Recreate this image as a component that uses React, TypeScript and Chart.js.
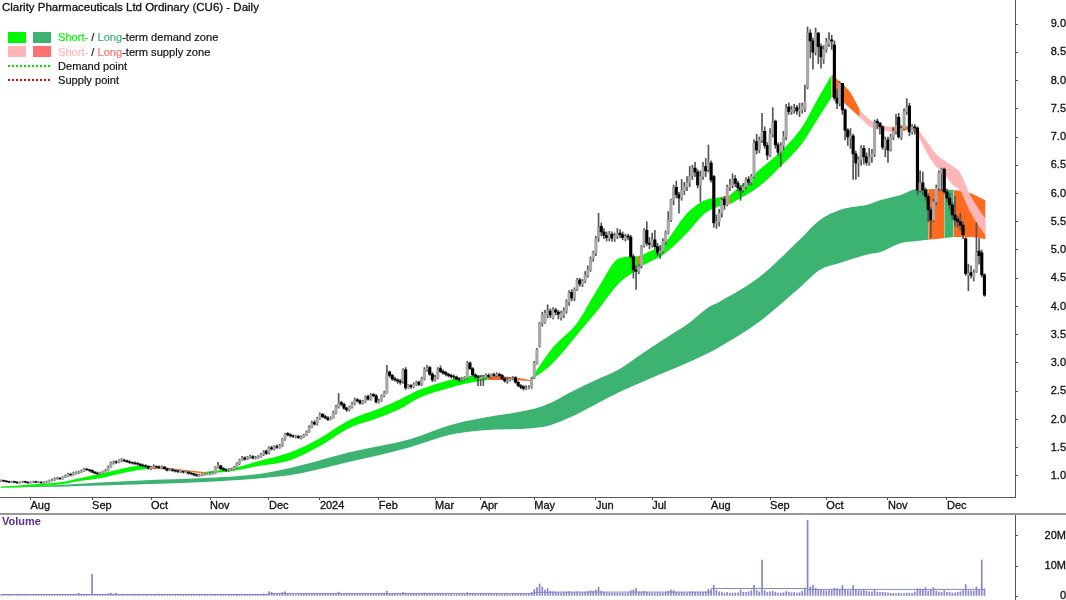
import { useEffect, useRef } from "react";
import { Chart, registerables } from "chart.js";

Chart.register(...registerables);

const FONT = '"Liberation Sans", Arial, sans-serif';

// Daily candles, one row per ten trading days
const candleOpen = [
  .91, .92, .91, .90, .89, .90, .89, .88, .89, .90,
  .89, .88, .89, .90, .89, .89, .88, .89, .90, .92,
  .93, .95, .96, .95, .98, 1.00, 1.03, 1.02, 1.05, 1.06,
  1.07, 1.09, 1.12, 1.11, 1.10, 1.07, 1.05, 1.04, 1.05, 1.08,
  1.10, 1.16, 1.23, 1.25, 1.24, 1.27, 1.28, 1.27, 1.25, 1.24,
  1.23, 1.22, 1.21, 1.19, 1.18, 1.17, 1.13, 1.15, 1.17, 1.16,
  1.14, 1.16, 1.13, 1.10, 1.11, 1.10, 1.09, 1.07, 1.08, 1.06,
  1.07, 1.05, 1.04, 1.02, 1.00, 1.01, 1.02, 1.03, 1.03, 1.04,
  1.05, 1.16, 1.18, 1.13, 1.11, 1.10, 1.11, 1.12, 1.15, 1.22,
  1.28, 1.32, 1.30, 1.33, 1.34, 1.32, 1.33, 1.34, 1.38, 1.44,
  1.41, 1.50, 1.48, 1.52, 1.50, 1.54, 1.65, 1.75, 1.73, 1.71,
  1.69, 1.70, 1.67, 1.69, 1.72, 1.78, 1.86, 1.95, 1.92, 2.02,
  2.09, 2.05, 2.03, 2.00, 2.03, 2.12, 2.22, 2.30, 2.27, 2.20,
  2.17, 2.22, 2.28, 2.35, 2.33, 2.29, 2.32, 2.41, 2.36, 2.44,
  2.42, 2.31, 2.33, 2.42, 2.47, 2.84, 2.78, 2.72, 2.70, 2.68,
  2.68, 2.88, 2.56, 2.60, 2.58, 2.62, 2.66, 2.62, 2.72, 2.88,
  2.92, 2.80, 2.70, 2.74, 2.90, 2.85, 2.83, 2.80, 2.78, 2.76,
  2.75, 2.72, 2.70, 2.72, 2.74, 3.00, 2.90, 2.79, 2.76, 2.72,
  2.74, 2.75, 2.78, 2.76, 2.80, 2.78, 2.80, 2.78, 2.72, 2.68,
  2.70, 2.72, 2.74, 2.66, 2.60, 2.58, 2.55, 2.56, 2.57, 2.74,
  3.00, 3.30, 3.70, 3.72, 3.85, 3.92, 3.80, 3.94, 3.90, 3.80,
  3.85, 3.92, 4.08, 4.25, 4.15, 4.30, 4.47, 4.40, 4.45, 4.55,
  4.65, 4.85, 4.95, 5.22, 5.42, 5.32, 5.26, 5.20, 5.28, 5.20,
  5.24, 5.30, 5.27, 5.20, 5.25, 5.23, 4.88, 4.65, 4.62, 4.72,
  5.08, 5.35, 5.12, 5.08, 5.18, 5.06, 4.95, 4.98, 5.15, 5.30,
  5.53, 5.88, 6.11, 5.98, 5.92, 6.05, 6.12, 6.19, 6.32, 6.45,
  6.38, 6.15, 6.30, 6.48, 6.42, 6.54, 6.30, 5.48, 5.50, 5.65,
  5.90, 5.80, 6.11, 6.15, 6.26, 6.18, 6.10, 6.06, 6.12, 6.25,
  6.20, 6.30, 6.92, 6.77, 6.95, 7.10, 6.85, 6.68, 7.05, 7.28,
  6.86, 6.73, 6.85, 7.00, 7.53, 7.45, 7.48, 7.52, 7.46, 7.48,
  7.50, 7.88, 8.84, 8.70, 8.50, 8.84, 8.60, 8.38, 8.55, 8.65,
  8.72, 8.63, 7.69, 7.60, 7.95, 7.48, 7.12, 6.98, 7.02, 6.70,
  6.54, 6.60, 6.80, 6.65, 6.55, 6.65, 6.70, 7.28, 7.25, 7.18,
  6.82, 6.95, 6.78, 7.00, 7.10, 7.35, 7.00, 7.15, 7.45, 7.55,
  7.09, 7.18, 7.16, 6.06, 6.19, 6.06, 5.95, 5.71, 5.53, 5.85,
  6.10, 6.36, 6.43, 6.03, 5.92, 5.80, 5.62, 5.55, 5.50, 5.44,
  5.20, 4.55, 4.60, 4.52, 4.62, 4.98, 4.95, 4.56,
];

const candleHigh = [
  .93, .93, .92, .91, .91, .91, .90, .90, .91, .91,
  .90, .90, .91, .91, .90, .90, .90, .91, .93, .95,
  .97, .98, .97, .99, 1.02, 1.05, 1.05, 1.07, 1.08, 1.09,
  1.11, 1.14, 1.14, 1.12, 1.11, 1.08, 1.07, 1.07, 1.09, 1.12,
  1.18, 1.25, 1.27, 1.27, 1.29, 1.31, 1.30, 1.28, 1.27, 1.25,
  1.25, 1.24, 1.22, 1.21, 1.20, 1.18, 1.17, 1.20, 1.18, 1.18,
  1.18, 1.17, 1.14, 1.13, 1.13, 1.11, 1.10, 1.10, 1.09, 1.09,
  1.08, 1.07, 1.05, 1.04, 1.03, 1.04, 1.05, 1.05, 1.06, 1.07,
  1.17, 1.24, 1.19, 1.15, 1.13, 1.13, 1.14, 1.17, 1.24, 1.30,
  1.35, 1.34, 1.35, 1.37, 1.36, 1.35, 1.36, 1.40, 1.45, 1.46,
  1.52, 1.53, 1.54, 1.55, 1.56, 1.67, 1.76, 1.77, 1.75, 1.73,
  1.72, 1.72, 1.71, 1.74, 1.80, 1.89, 1.97, 1.98, 2.04, 2.12,
  2.11, 2.08, 2.05, 2.05, 2.15, 2.25, 2.46, 2.32, 2.29, 2.22,
  2.24, 2.31, 2.38, 2.37, 2.35, 2.34, 2.42, 2.43, 2.46, 2.46,
  2.44, 2.36, 2.44, 2.50, 2.96, 2.86, 2.80, 2.75, 2.72, 2.71,
  2.90, 2.92, 2.62, 2.62, 2.65, 2.68, 2.68, 2.75, 2.92, 2.96,
  2.94, 2.83, 2.78, 2.92, 2.95, 2.88, 2.85, 2.82, 2.80, 2.79,
  2.77, 2.74, 2.74, 2.76, 3.03, 3.02, 2.92, 2.81, 2.78, 2.78,
  2.78, 2.81, 2.81, 2.81, 2.82, 2.83, 2.82, 2.80, 2.74, 2.74,
  2.74, 2.76, 2.76, 2.68, 2.62, 2.60, 2.60, 2.60, 2.75, 3.03,
  3.26, 3.72, 3.90, 3.93, 4.03, 3.96, 3.98, 3.97, 3.93, 3.92,
  3.98, 4.12, 4.28, 4.30, 4.33, 4.50, 4.50, 4.48, 4.62, 4.72,
  4.88, 4.98, 5.24, 5.65, 5.48, 5.38, 5.32, 5.33, 5.32, 5.30,
  5.38, 5.36, 5.32, 5.28, 5.28, 5.26, 4.92, 4.72, 4.74, 5.08,
  5.38, 5.50, 5.22, 5.30, 5.35, 5.12, 5.08, 5.20, 5.34, 5.68,
  5.90, 6.15, 6.22, 6.02, 6.25, 6.20, 6.30, 6.48, 6.50, 6.55,
  6.42, 6.40, 6.55, 6.62, 6.86, 6.58, 6.32, 5.62, 5.72, 5.92,
  5.95, 6.15, 6.25, 6.35, 6.32, 6.22, 6.14, 6.18, 6.28, 6.30,
  6.34, 6.95, 7.05, 7.00, 7.42, 7.18, 6.90, 7.15, 7.52, 7.30,
  6.90, 6.90, 7.10, 7.58, 7.60, 7.55, 7.58, 7.56, 7.60, 7.60,
  7.92, 8.95, 8.90, 8.75, 8.93, 8.85, 8.65, 8.62, 8.75, 8.85,
  8.80, 8.70, 7.85, 7.98, 7.95, 7.50, 7.15, 7.15, 7.05, 6.75,
  6.65, 6.85, 6.85, 6.72, 6.80, 6.78, 7.30, 7.32, 7.25, 7.20,
  7.00, 7.00, 7.05, 7.15, 7.40, 7.42, 7.20, 7.50, 7.68, 7.60,
  7.22, 7.22, 7.18, 6.40, 6.38, 6.10, 6.00, 5.75, 5.90, 6.15,
  6.40, 6.45, 6.45, 6.08, 6.00, 5.85, 5.95, 5.60, 5.65, 5.50,
  5.22, 4.75, 4.72, 4.65, 5.48, 5.20, 5.00, 4.58,
];

const candleLow = [
  .90, .90, .89, .88, .88, .88, .87, .87, .88, .88,
  .87, .87, .88, .88, .88, .87, .87, .88, .89, .91,
  .92, .94, .94, .94, .97, .99, 1.00, 1.01, 1.03, 1.04,
  1.06, 1.08, 1.10, 1.08, 1.06, 1.04, 1.02, 1.03, 1.04, 1.07,
  1.09, 1.15, 1.21, 1.22, 1.23, 1.25, 1.25, 1.24, 1.22, 1.21,
  1.20, 1.19, 1.17, 1.16, 1.15, 1.12, 1.11, 1.14, 1.14, 1.13,
  1.13, 1.12, 1.09, 1.09, 1.08, 1.07, 1.06, 1.06, 1.05, 1.05,
  1.03, 1.02, 1.00, .99, .99, 1.00, 1.01, 1.02, 1.02, 1.03,
  1.04, 1.14, 1.11, 1.09, 1.08, 1.08, 1.10, 1.11, 1.14, 1.20,
  1.27, 1.28, 1.29, 1.31, 1.30, 1.30, 1.31, 1.33, 1.36, 1.38,
  1.39, 1.46, 1.46, 1.49, 1.49, 1.52, 1.63, 1.71, 1.69, 1.68,
  1.67, 1.66, 1.65, 1.68, 1.71, 1.77, 1.85, 1.90, 1.90, 2.00,
  2.03, 2.01, 1.98, 1.99, 2.02, 2.10, 2.20, 2.24, 2.18, 2.14,
  2.15, 2.20, 2.26, 2.31, 2.27, 2.27, 2.30, 2.34, 2.34, 2.40,
  2.29, 2.29, 2.32, 2.40, 2.46, 2.75, 2.69, 2.68, 2.64, 2.62,
  2.64, 2.53, 2.55, 2.55, 2.56, 2.60, 2.60, 2.60, 2.70, 2.85,
  2.78, 2.67, 2.68, 2.72, 2.83, 2.80, 2.77, 2.75, 2.73, 2.71,
  2.70, 2.67, 2.68, 2.70, 2.72, 2.88, 2.77, 2.72, 2.60, 2.60,
  2.60, 2.73, 2.74, 2.73, 2.76, 2.76, 2.75, 2.70, 2.66, 2.64,
  2.68, 2.70, 2.64, 2.58, 2.54, 2.52, 2.53, 2.54, 2.55, 2.72,
  2.98, 3.28, 3.65, 3.70, 3.80, 3.80, 3.78, 3.85, 3.78, 3.76,
  3.80, 3.88, 4.02, 4.10, 4.10, 4.28, 4.36, 4.35, 4.42, 4.52,
  4.62, 4.80, 4.90, 5.15, 5.25, 5.20, 5.16, 5.16, 5.15, 5.15,
  5.20, 5.22, 5.18, 5.16, 5.18, 4.85, 4.50, 4.30, 4.58, 4.68,
  5.05, 5.08, 5.02, 5.05, 5.02, 4.90, 4.85, 4.95, 5.10, 5.28,
  5.50, 5.80, 5.92, 5.65, 5.88, 5.98, 6.05, 6.12, 6.25, 6.30,
  6.10, 5.85, 6.25, 6.30, 6.38, 6.20, 5.40, 5.38, 5.42, 5.58,
  5.72, 5.78, 6.05, 6.10, 6.12, 6.04, 5.88, 6.02, 6.08, 6.15,
  6.15, 6.28, 6.70, 6.72, 6.90, 6.80, 6.60, 6.65, 7.00, 6.80,
  6.68, 6.48, 6.78, 6.95, 7.40, 7.40, 7.42, 7.40, 7.36, 7.42,
  7.45, 7.85, 8.40, 8.20, 8.45, 8.30, 8.22, 8.30, 8.50, 8.60,
  8.55, 7.65, 7.50, 7.55, 7.40, 6.95, 6.85, 6.80, 6.25, 6.25,
  6.30, 6.50, 6.52, 6.50, 6.50, 6.55, 6.65, 7.15, 7.05, 6.78,
  6.65, 6.55, 6.75, 6.95, 7.05, 6.98, 6.95, 7.12, 7.40, 7.02,
  7.05, 7.05, 5.98, 6.02, 5.98, 5.88, 5.50, 5.22, 5.50, 5.80,
  6.05, 6.05, 6.00, 5.85, 5.72, 5.55, 5.42, 5.40, 5.35, 5.20,
  4.55, 4.28, 4.50, 4.45, 4.60, 4.75, 4.52, 4.18,
];

const candleClose = [
  .92, .91, .90, .89, .90, .89, .88, .89, .90, .89,
  .88, .89, .90, .89, .89, .88, .89, .90, .92, .93,
  .95, .96, .95, .98, 1.00, 1.03, 1.02, 1.05, 1.06, 1.07,
  1.09, 1.12, 1.11, 1.10, 1.07, 1.05, 1.04, 1.05, 1.08, 1.10,
  1.16, 1.23, 1.25, 1.24, 1.27, 1.28, 1.27, 1.25, 1.24, 1.23,
  1.22, 1.21, 1.19, 1.18, 1.17, 1.14, 1.15, 1.17, 1.16, 1.15,
  1.16, 1.13, 1.10, 1.11, 1.10, 1.09, 1.08, 1.08, 1.07, 1.07,
  1.05, 1.04, 1.02, 1.01, 1.01, 1.02, 1.03, 1.04, 1.04, 1.05,
  1.16, 1.18, 1.13, 1.11, 1.10, 1.11, 1.12, 1.15, 1.22, 1.28,
  1.32, 1.30, 1.33, 1.34, 1.32, 1.33, 1.34, 1.38, 1.42, 1.40,
  1.50, 1.48, 1.52, 1.51, 1.54, 1.65, 1.74, 1.73, 1.71, 1.70,
  1.70, 1.68, 1.69, 1.72, 1.78, 1.86, 1.94, 1.92, 2.02, 2.08,
  2.05, 2.03, 2.00, 2.03, 2.12, 2.22, 2.29, 2.27, 2.20, 2.17,
  2.22, 2.28, 2.35, 2.33, 2.29, 2.32, 2.40, 2.36, 2.43, 2.42,
  2.31, 2.33, 2.42, 2.47, 2.82, 2.78, 2.72, 2.70, 2.68, 2.66,
  2.88, 2.56, 2.60, 2.58, 2.62, 2.65, 2.62, 2.72, 2.88, 2.91,
  2.80, 2.70, 2.74, 2.88, 2.85, 2.82, 2.80, 2.78, 2.76, 2.75,
  2.72, 2.70, 2.72, 2.74, 3.00, 2.90, 2.79, 2.76, 2.74, 2.74,
  2.75, 2.78, 2.76, 2.79, 2.78, 2.80, 2.78, 2.72, 2.68, 2.70,
  2.72, 2.73, 2.66, 2.60, 2.57, 2.55, 2.56, 2.57, 2.72, 3.00,
  3.23, 3.70, 3.85, 3.88, 3.92, 3.85, 3.94, 3.90, 3.86, 3.88,
  3.92, 4.08, 4.24, 4.15, 4.30, 4.47, 4.40, 4.45, 4.55, 4.65,
  4.85, 4.95, 5.20, 5.40, 5.32, 5.26, 5.22, 5.28, 5.21, 5.25,
  5.30, 5.27, 5.22, 5.24, 5.23, 4.88, 4.65, 4.62, 4.70, 5.05,
  5.35, 5.12, 5.10, 5.18, 5.06, 4.95, 4.98, 5.15, 5.30, 5.53,
  5.88, 6.11, 5.98, 5.92, 6.05, 6.12, 6.19, 6.30, 6.45, 6.38,
  6.15, 6.30, 6.47, 6.40, 6.54, 6.24, 5.48, 5.50, 5.65, 5.88,
  5.80, 6.11, 6.15, 6.24, 6.18, 6.10, 6.06, 6.12, 6.24, 6.20,
  6.30, 6.89, 6.77, 6.95, 7.09, 6.85, 6.68, 7.05, 7.25, 6.86,
  6.73, 6.85, 7.00, 7.51, 7.45, 7.48, 7.50, 7.46, 7.48, 7.55,
  7.62, 8.84, 8.70, 8.50, 8.84, 8.60, 8.42, 8.55, 8.68, 8.72,
  8.70, 7.69, 7.60, 7.95, 7.48, 7.12, 7.00, 7.02, 6.70, 6.54,
  6.60, 6.80, 6.65, 6.55, 6.65, 6.70, 7.27, 7.25, 7.18, 6.82,
  6.95, 6.77, 7.00, 7.10, 7.20, 7.00, 7.15, 7.45, 7.53, 7.09,
  7.18, 7.16, 6.06, 6.19, 6.06, 5.95, 5.71, 5.53, 5.85, 6.10,
  6.36, 6.42, 6.03, 5.92, 5.80, 5.62, 5.53, 5.50, 5.44, 5.27,
  4.58, 4.59, 4.55, 4.60, 4.95, 4.90, 4.56, 4.20,
];

// Volume in millions of shares
const volumes = [
  .2, .2, .15, .2, .2, .15, .2, .2, .2, .15,
  .2, .2, .25, .2, .2, .2, .25, .3, .25, .3,
  .25, .3, .25, .3, .35, .3, .4, .3, .4, .9,
  .5, .4, .4, .5, 7.3, .6, .4, .5, .4, .4,
  .8, 1.0, .6, .9, .5, .6, .4, .4, .3, .3,
  .3, .4, .5, .3, .3, .5, .4, .3, .3, .3,
  .4, .3, .4, .3, .3, .3, .2, .3, .3, .2,
  .3, .2, .3, .2, .3, .3, .4, .3, .3, .3,
  .6, .5, .4, .3, .3, .3, .4, .4, .5, .5,
  .6, .4, .4, .4, .5, .4, .5, .6, .7, .5,
  1.5, 1.2, .9, .6, .6, 1.2, 1.4, .8, .5, .5,
  .4, .5, .6, .7, .8, .7, .9, .7, .7, .9,
  .8, .7, .6, .7, .8, .9, 1.3, .7, .6, .6,
  .6, .7, .8, .6, .6, .7, .8, .6, .7, .7,
  .8, .7, .8, .9, 1.6, .9, .7, .6, .6, .5,
  1.2, 1.0, .7, .6, .6, .7, .6, .8, 1.0, .9,
  .8, .7, .6, .8, .7, .6, .6, .5, .6, .5,
  .5, .5, .6, .5, 1.1, .9, .7, .6, .5, .6,
  .6, .6, .5, .6, .5, .6, .5, .6, .6, .5,
  .5, .6, .7, .8, .6, .6, .5, .6, 1.2, 2.2,
  2.8, 4.0, 3.0, 2.0, 2.5, 1.6, 1.4, 1.2, 1.1, 1.0,
  1.2, 1.3, 1.5, 1.1, 1.2, 1.4, 1.0, 1.1, 1.3, 1.5,
  1.8, 1.6, 2.0, 3.0, 1.6, 1.2, 1.0, .9, .9, 1.0,
  1.0, .9, .9, .8, .9, 1.8, 2.0, 2.6, 1.4, 1.3,
  1.6, 1.3, 1.0, .9, 1.0, 1.1, .9, 1.0, 1.2, 1.6,
  2.0, 1.8, 1.3, 1.1, 1.2, 1.0, 1.1, 1.3, 1.4, 1.2,
  1.1, 1.3, 1.2, 1.4, 2.2, 1.8, 3.6, 1.9, 1.4, 1.3,
  1.0, 1.2, 1.0, 1.0, 1.0, 1.1, 2.0, 1.3, 1.2, 1.4,
  1.8, 3.6, 1.9, 1.4, 12.0, 1.8, 1.2, 1.4, 1.6, 1.3,
  1.0, 1.0, 1.1, 1.5, 1.3, 1.1, 1.2, 1.0, 1.1, 1.6,
  2.4, 25.3, 3.0, 3.6, 2.6, 2.0, 1.9, 1.8, 1.7, 1.8,
  2.0, 2.6, 2.4, 2.0, 3.5, 2.2, 1.8, 1.7, 3.5, 2.0,
  1.8, 1.7, 1.9, 1.6, 1.4, 1.4, 1.9, 1.3, 1.2, 1.2,
  1.2, 1.1, .9, .9, .8, 1.0, .8, .8, 1.0, 1.0,
  .9, 1.4, 2.4, 2.3, 2.0, 2.8, 1.6, 2.0, 2.8, 1.6,
  1.4, 1.2, 1.8, 1.3, 1.2, 1.0, 1.1, 1.2, 1.4, 1.8,
  3.8, 1.8, 1.7, 1.6, 3.0, 1.9, 12.0, 2.4,
];

const volumeAvgDays = [0, 100, 199, 205, 265, 301, 330, 367];
const volumeAvg = [.3, .5, .8, 1.2, 1.3, 2.5, 2.2, 2.2];

const monthDays = [11, 34, 56, 78, 100, 119, 141, 162, 179, 199, 222, 243, 265, 287, 308, 331, 353];
const monthLabels = ["Aug", "Sep", "Oct", "Nov", "Dec", "2024", "Feb", "Mar", "Apr", "May", "Jun", "Jul", "Aug", "Sep", "Oct", "Nov", "Dec"];
const priceTicks = [1, 1.5, 2, 2.5, 3, 3.5, 4, 4.5, 5, 5.5, 6, 6.5, 7, 7.5, 8, 8.5, 9];
const volumeTicks = [0, 10, 20];

// Zones: trading day, then upper and lower edge in dollars
const longDemandDays = [0, 22, 37, 56, 74, 97, 112, 130, 152.6, 167.5, 180, 199, 205, 212, 222, 231, 241, 250, 256, 264.5, 268, 283, 298, 305.6, 313, 324, 328, 335.5, 342, 346];
const longDemandUpper = [.81, .84, .885, .93, .96, 1.04, 1.19, 1.42, 1.65, 1.90, 2.03, 2.19, 2.29, 2.47, 2.70, 2.90, 3.22, 3.50, 3.68, 4.00, 4.08, 4.52, 5.18, 5.53, 5.71, 5.81, 5.88, 5.97, 6.08, 6.08];
const longDemandLower = [.80, .81, .83, .86, .89, .96, 1.05, 1.25, 1.51, 1.73, 1.81, 1.85, 1.90, 2.03, 2.27, 2.49, 2.70, 2.88, 3.00, 3.19, 3.28, 3.73, 4.33, 4.65, 4.77, 4.93, 4.96, 5.12, 5.16, 5.18];
const longSupplyDaysA = [346, 352];
const longSupplyUpperA = [6.08, 6.07];
const longSupplyLowerA = [5.18, 5.21];
const longDemandDaysB = [352, 355.5];
const longDemandUpperB = [6.07, 6.06];
const longDemandLowerB = [5.21, 5.23];
const longSupplyDaysB = [355.5, 361.6, 367.4];
const longSupplyUpperB = [6.06, 6.01, 5.88];
const longSupplyLowerB = [5.23, 5.23, 5.19];

const shortDemandDaysA = [0, 11, 22, 29.5, 37, 44.4, 52, 55.6];
const shortDemandUpperA = [.81, .85, .89, .96, 1.04, 1.12, 1.18, 1.18];
const shortDemandLowerA = [.79, .81, .85, .91, .96, 1.04, 1.11, 1.13];
const shortSupplyDaysA = [55.6, 65, 76];
const shortSupplyUpperA = [1.18, 1.13, 1.07];
const shortSupplyLowerA = [1.13, 1.11, 1.04];
const shortDemandDaysB = [76, 86.6, 96.6, 108, 119, 130, 141.4, 149, 156, 167.5, 175, 181.7];
const shortDemandUpperB = [1.07, 1.14, 1.27, 1.42, 1.67, 1.99, 2.20, 2.36, 2.52, 2.70, 2.77, 2.79];
const shortDemandLowerB = [1.04, 1.09, 1.18, 1.28, 1.53, 1.85, 2.04, 2.19, 2.38, 2.56, 2.65, 2.70];
const shortSupplyDaysB = [181.7, 190, 197.4];
const shortSupplyUpperB = [2.79, 2.75, 2.70];
const shortSupplyLowerB = [2.70, 2.70, 2.68];
const shortDemandDaysC = [197.4, 206, 215, 222.4, 231, 237.7];
const shortDemandUpperC = [2.70, 3.28, 3.71, 4.29, 4.86, 4.89];
const shortDemandLowerC = [2.68, 3.00, 3.50, 3.92, 4.43, 4.65];
const shortSupplyDaysC = [237.7, 239.3];
const shortSupplyUpperC = [4.89, 4.91];
const shortSupplyLowerC = [4.65, 4.72];
const shortDemandDaysD = [239.3, 243.3, 247, 256, 262.7, 269.4];
const shortDemandUpperD = [4.91, 5.00, 5.09, 5.65, 5.88, 5.94];
const shortDemandLowerD = [4.72, 4.82, 4.91, 5.30, 5.65, 5.80];
const shortSupplyDaysD = [269.4, 272];
const shortSupplyUpperD = [5.94, 5.97];
const shortSupplyLowerD = [5.80, 5.81];
const shortDemandDaysE = [272, 283, 290.7, 299, 304.5, 310];
const shortDemandUpperE = [5.97, 6.42, 6.73, 7.18, 7.65, 8.10];
const shortDemandLowerE = [5.81, 6.13, 6.47, 6.89, 7.30, 7.71];
const shortSupplyDaysE = [310, 312.3, 316.8, 320.5];
const shortSupplyUpperE = [8.10, 8.01, 7.80, 7.48];
const shortSupplyLowerE = [7.71, 7.69, 7.51, 7.35];
const fadedSupplyDaysA = [320.5, 324.3, 329.9, 332.5];
const fadedSupplyUpperA = [7.48, 7.30, 7.19, 7.18];
const fadedSupplyLowerA = [7.35, 7.18, 7.11, 7.09];
const shortSupplyDaysF = [332.5, 334, 338, 341.8];
const shortSupplyUpperF = [7.18, 7.18, 7.19, 7.16];
const shortSupplyLowerF = [7.09, 7.11, 7.12, 7.07];
const fadedSupplyDaysB = [341.8, 345.5, 349, 351.5, 355.2, 357.8, 361.6, 367.4];
const fadedSupplyUpperB = [7.16, 6.92, 6.70, 6.60, 6.48, 6.38, 5.98, 5.55];
const fadedSupplyLowerB = [7.07, 6.72, 6.47, 6.38, 6.15, 6.06, 5.68, 5.25];

const LIME = "#00f800";
const SEA = "#3cb371";
const ORANGE = "#ff6a1f";
const PINK = "#ffb6b9";
const SALMON = "#ff7070";
const VOLUME_BLUE = "#8585cc";

// Later rows are drawn over earlier ones
const zones = [
  { days: longDemandDays, upper: longDemandUpper, lower: longDemandLower, color: SEA, order: 30 },
  { days: longSupplyDaysA, upper: longSupplyUpperA, lower: longSupplyLowerA, color: ORANGE, order: 30 },
  { days: longDemandDaysB, upper: longDemandUpperB, lower: longDemandLowerB, color: SEA, order: 30 },
  { days: longSupplyDaysB, upper: longSupplyUpperB, lower: longSupplyLowerB, color: ORANGE, order: 30 },
  { days: shortDemandDaysA, upper: shortDemandUpperA, lower: shortDemandLowerA, color: LIME, order: 20 },
  { days: shortSupplyDaysA, upper: shortSupplyUpperA, lower: shortSupplyLowerA, color: ORANGE, order: 20 },
  { days: shortDemandDaysB, upper: shortDemandUpperB, lower: shortDemandLowerB, color: LIME, order: 20 },
  { days: shortSupplyDaysB, upper: shortSupplyUpperB, lower: shortSupplyLowerB, color: ORANGE, order: 20 },
  { days: shortDemandDaysC, upper: shortDemandUpperC, lower: shortDemandLowerC, color: LIME, order: 20 },
  { days: shortSupplyDaysC, upper: shortSupplyUpperC, lower: shortSupplyLowerC, color: ORANGE, order: 20 },
  { days: shortDemandDaysD, upper: shortDemandUpperD, lower: shortDemandLowerD, color: LIME, order: 20 },
  { days: shortSupplyDaysD, upper: shortSupplyUpperD, lower: shortSupplyLowerD, color: ORANGE, order: 20 },
  { days: shortDemandDaysE, upper: shortDemandUpperE, lower: shortDemandLowerE, color: LIME, order: 20 },
  { days: shortSupplyDaysE, upper: shortSupplyUpperE, lower: shortSupplyLowerE, color: ORANGE, order: 20 },
  { days: fadedSupplyDaysA, upper: fadedSupplyUpperA, lower: fadedSupplyLowerA, color: PINK, order: 20 },
  { days: shortSupplyDaysF, upper: shortSupplyUpperF, lower: shortSupplyLowerF, color: ORANGE, order: 20 },
  { days: fadedSupplyDaysB, upper: fadedSupplyUpperB, lower: fadedSupplyLowerB, color: PINK, order: 20 },
];

const DAY_MIN = -0.37;
const DAY_MAX = 378.4;
const AXIS_WIDTH = 51;

function zoneDatasets() {
  return zones.flatMap((z) => {
    const edge = (values: number[]) => values.map((y, i) => ({ x: z.days[i], y }));
    const shared = {
      type: "line",
      borderWidth: 0,
      pointRadius: 0,
      cubicInterpolationMode: "monotone",
      order: z.order,
      backgroundColor: z.color,
    };
    return [
      { ...shared, data: edge(z.upper), fill: "+1" },
      { ...shared, data: edge(z.lower), fill: false },
    ];
  });
}

const tickFont = { family: FONT, size: 11 };

function rightAxis(ticks: number[], min: number, max: number, padding: number, label: (v: number) => string) {
  return {
    position: "right",
    min,
    max,
    afterBuildTicks: (scale: any) => {
      scale.ticks = ticks.map((value) => ({ value }));
    },
    afterFit: (scale: any) => {
      scale.width = AXIS_WIDTH;
      scale.paddingTop = 0;
      scale.paddingBottom = 0;
    },
    border: { color: "#555", width: 1 },
    grid: { drawOnChartArea: false, tickLength: 3, tickColor: "#555" },
    ticks: {
      padding,
      crossAlign: "far",
      color: "#111",
      textStrokeColor: "#111",
      textStrokeWidth: 0.3,
      font: tickFont,
      callback: (v: number) => label(v),
    },
  };
}

function PriceChart() {
  const canvasRef = useRef<HTMLCanvasElement>(null);

  useEffect(() => {
    if (!canvasRef.current) return;
    const chart = new Chart(canvasRef.current, {
      type: "bar",
      data: {
        datasets: [
          ...zoneDatasets(),
          {
            data: candleHigh.map((h, i) => ({ x: i, y: [candleLow[i], h] })),
            backgroundColor: "#555",
            barThickness: 1,
            grouped: false,
            order: 2,
          },
          {
            data: candleOpen.map((o, i) => ({ x: i, y: [o, candleClose[i]] })),
            backgroundColor: candleClose.map((c, i) => (c >= candleOpen[i] ? "#a8a8a8" : "#000")),
            barThickness: 2.5,
            grouped: false,
            order: 1,
          },
        ] as any,
      },
      options: {
        animation: false,
        responsive: false,
        events: [],
        layout: { padding: 0 },
        plugins: { legend: { display: false }, tooltip: { enabled: false } },
        scales: {
          x: {
            type: "linear",
            min: DAY_MIN,
            max: DAY_MAX,
            offset: false,
            afterBuildTicks: (scale: any) => {
              scale.ticks = monthDays.map((value) => ({ value }));
            },
            afterFit: (scale: any) => {
              scale.height = 16;
              scale.paddingLeft = 0;
              scale.paddingRight = 0;
            },
            border: { color: "#555", width: 1 },
            grid: { drawOnChartArea: false, offset: false, tickLength: 3, tickColor: "#555" },
            ticks: {
              autoSkip: false,
              maxRotation: 0,
              align: "start",
              padding: -1,
              color: "#111",
              textStrokeColor: "#111",
              textStrokeWidth: 0.3,
              font: tickFont,
              callback: (v: number) => monthLabels[monthDays.indexOf(v)],
            },
          },
          y: rightAxis(priceTicks, 0.628, 9.425, 31, (v) => v.toFixed(1)),
        } as any,
      },
    });
    return () => chart.destroy();
  }, []);

  return <canvas ref={canvasRef} width={1066} height={513} style={{ position: "absolute", left: 0, top: 0 }} />;
}

function VolumeChart() {
  const canvasRef = useRef<HTMLCanvasElement>(null);

  useEffect(() => {
    if (!canvasRef.current) return;
    const chart = new Chart(canvasRef.current, {
      type: "bar",
      data: {
        datasets: [
          {
            type: "line",
            data: volumeAvg.map((y, i) => ({ x: volumeAvgDays[i], y })),
            borderColor: VOLUME_BLUE,
            borderWidth: 1,
            pointRadius: 0,
            stepped: "after",
            order: 1,
          },
          {
            data: volumes.map((y, i) => ({ x: i, y })),
            backgroundColor: VOLUME_BLUE,
            barThickness: 1,
            order: 2,
          },
        ] as any,
      },
      options: {
        animation: false,
        responsive: false,
        events: [],
        layout: { padding: 0 },
        plugins: { legend: { display: false }, tooltip: { enabled: false } },
        scales: {
          x: { type: "linear", display: false, min: DAY_MIN, max: DAY_MAX, offset: false, grid: { offset: false } },
          y: rightAxis(volumeTicks, -1.33, 27.33, 25, (v) => (v === 0 ? "0" : `${v}M`)),
        } as any,
      },
    });
    return () => chart.destroy();
  }, []);

  return <canvas ref={canvasRef} width={1066} height={86} style={{ position: "absolute", left: 0, top: 514 }} />;
}

function Swatch({ left, top, color }: { left: number; top: number; color: string }) {
  return <div style={{ position: "absolute", left, top, width: 18, height: 11, background: color }} />;
}

function DottedLine({ top, color }: { top: number; color: string }) {
  return (
    <div
      style={{
        position: "absolute",
        left: 8,
        top,
        width: 44,
        height: 2,
        background: `repeating-linear-gradient(90deg, ${color} 0 2px, transparent 2px 4px)`,
      }}
    />
  );
}

function LegendRow({ top, children }: { top: number; children: React.ReactNode }) {
  return (
    <div style={{ position: "absolute", left: 58, top, fontSize: 11.1, lineHeight: "14px", whiteSpace: "nowrap", WebkitTextStroke: "0.2px" }}>
      {children}
    </div>
  );
}

export default function App() {
  return (
    <div style={{ position: "fixed", left: 0, top: 0, width: 1066, height: 600, background: "#fff", overflow: "hidden", fontFamily: FONT, fontSize: 11.5, color: "#111" }}>
      <PriceChart />
      <VolumeChart />
      <div style={{ position: "absolute", left: 0, top: 513, width: 1066, height: 2, background: "#999" }} />
      <div style={{ position: "absolute", left: 2, top: 1, whiteSpace: "nowrap", WebkitTextStroke: "0.3px" }}>Clarity Pharmaceuticals Ltd Ordinary (CU6) - Daily</div>
      <Swatch left={8} top={32} color={LIME} />
      <Swatch left={33} top={32} color={SEA} />
      <Swatch left={8} top={46} color={PINK} />
      <Swatch left={33} top={46} color={SALMON} />
      <LegendRow top={30}>
        <span style={{ color: LIME }}>Short-</span> / <span style={{ color: SEA }}>Long</span>-term demand zone
      </LegendRow>
      <LegendRow top={45}>
        <span style={{ color: PINK }}>Short-</span> / <span style={{ color: SALMON }}>Long</span>-term supply zone
      </LegendRow>
      <DottedLine top={65} color="#00e000" />
      <LegendRow top={59}>Demand point</LegendRow>
      <DottedLine top={79} color="#e00000" />
      <LegendRow top={73}>Supply point</LegendRow>
      <div style={{ position: "absolute", left: 2, top: 515, fontSize: 11, color: "#5a2d91", fontWeight: 700 }}>Volume</div>
    </div>
  );
}
